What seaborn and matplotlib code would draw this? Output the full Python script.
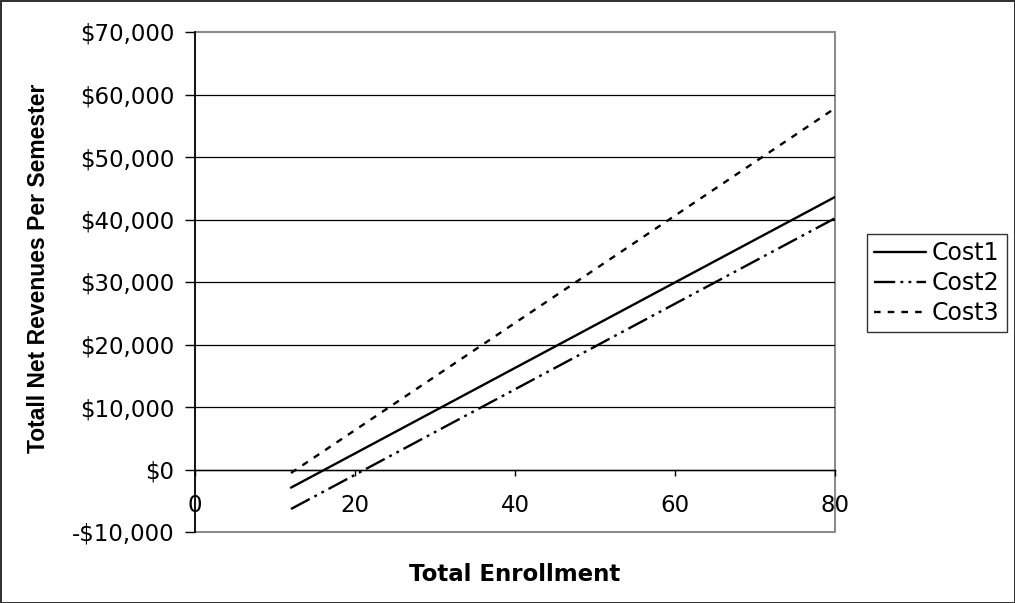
import matplotlib
matplotlib.use("Agg")
import matplotlib.pyplot as plt
import seaborn as sns
import pandas as pd
from matplotlib.ticker import FuncFormatter
from matplotlib.lines import Line2D

# Net revenue per semester for three cost scenarios
enrollment = [12, 20, 40, 60, 80]
cost1 = [-2900, 2570, 16250, 29930, 43600]
cost2 = [-6320, -850, 12830, 26520, 40200]
cost3 = [-560, 6300, 23450, 40620, 57800]
series_names = ["Cost1", "Cost2", "Cost3"]
x_ticks = [0, 20, 40, 60, 80]
y_ticks = [-10000, 0, 10000, 20000, 30000, 40000, 50000, 60000, 70000]

df = pd.DataFrame({
    "Total Enrollment": enrollment * 3,
    "Revenue": cost1 + cost2 + cost3,
    "Series": [name for name in series_names for _ in enrollment],
})

sns.set_style("white")
plt.rcParams["font.family"] = ["DejaVu Sans"]
plt.rcParams["text.color"] = "black"
plt.rcParams["axes.labelcolor"] = "black"

dash_styles = {"Cost1": "", "Cost2": (9, 2.2, 1.2, 2.2, 1.2, 2.2), "Cost3": (2.8, 3)}
line_width = 1.7

fig = plt.figure(figsize=(10.15, 6.03), dpi=100)
fig.patch.set_facecolor("white")
fig.patch.set_edgecolor("#333333")
fig.patch.set_linewidth(2)

ax = fig.add_axes([195 / 1015, 1 - 532 / 603, 640 / 1015, 500 / 603])

sns.lineplot(data=df, x="Total Enrollment", y="Revenue", style="Series",
             dashes=dash_styles, color="black", linewidth=line_width,
             legend=False, ax=ax)

ax.set_xlim(0, 80)
ax.set_ylim(-10000, 70000)
ax.set_xticks(x_ticks)
ax.set_yticks(y_ticks)
ax.yaxis.set_major_formatter(FuncFormatter(
    lambda v, _: f"${v:,.0f}" if v >= 0 else f"-${-v:,.0f}"))

# frame: gray border, black value axis, category axis crossing at zero
ax.patch.set_edgecolor("#8c8c8c")
ax.patch.set_linewidth(1.5)
for side in ("top", "right"):
    ax.spines[side].set_visible(False)
ax.spines["left"].set_color("black")
ax.spines["left"].set_linewidth(1.2)
ax.spines["bottom"].set_position(("data", 0))
ax.spines["bottom"].set_color("black")
ax.spines["bottom"].set_linewidth(1.0)

ax.yaxis.grid(True, color="black", linewidth=0.9)
ax.xaxis.grid(False)
gridlines = ax.yaxis.get_gridlines()
gridlines[0].set_visible(False)
gridlines[-1].set_visible(False)

ax.tick_params(axis="y", left=True, direction="out", length=7, width=1,
               pad=8, labelsize=16.5, colors="black")
ax.tick_params(axis="x", bottom=True, direction="out", length=4.5, width=1,
               pad=13, labelsize=16.5, colors="black")

ax.set_xlabel("Total Enrollment", fontsize=16.5, fontweight="bold",
              color="black")
ax.xaxis.set_label_coords(0.5, -0.062)
ax.set_ylabel("Totall Net Revenues Per Semester", fontsize=16.5,
              fontweight="bold", color="black",
              family=["Liberation Sans", "DejaVu Sans"])
ax.yaxis.set_label_coords(-0.2266, 0.528)

handles = []
for name in series_names:
    if dash_styles[name]:
        handles.append(Line2D([], [], color="black", linewidth=line_width,
                              dashes=dash_styles[name]))
    else:
        handles.append(Line2D([], [], color="black", linewidth=line_width,
                              linestyle="-"))
leg = ax.legend(handles, series_names, loc="upper left",
                bbox_to_anchor=(867 / 1015, 1 - 234 / 603),
                bbox_transform=fig.transFigure, frameon=True, fancybox=False,
                shadow=False, edgecolor="black", facecolor="white",
                fontsize=17, handlelength=2.2, handletextpad=0.25,
                borderpad=0.3, labelspacing=0.25, borderaxespad=0)
leg.get_frame().set_linewidth(1.0)
for t in leg.get_texts():
    t.set_color("black")

fig.savefig("out.png", dpi=100, facecolor="white", edgecolor="#333333")
